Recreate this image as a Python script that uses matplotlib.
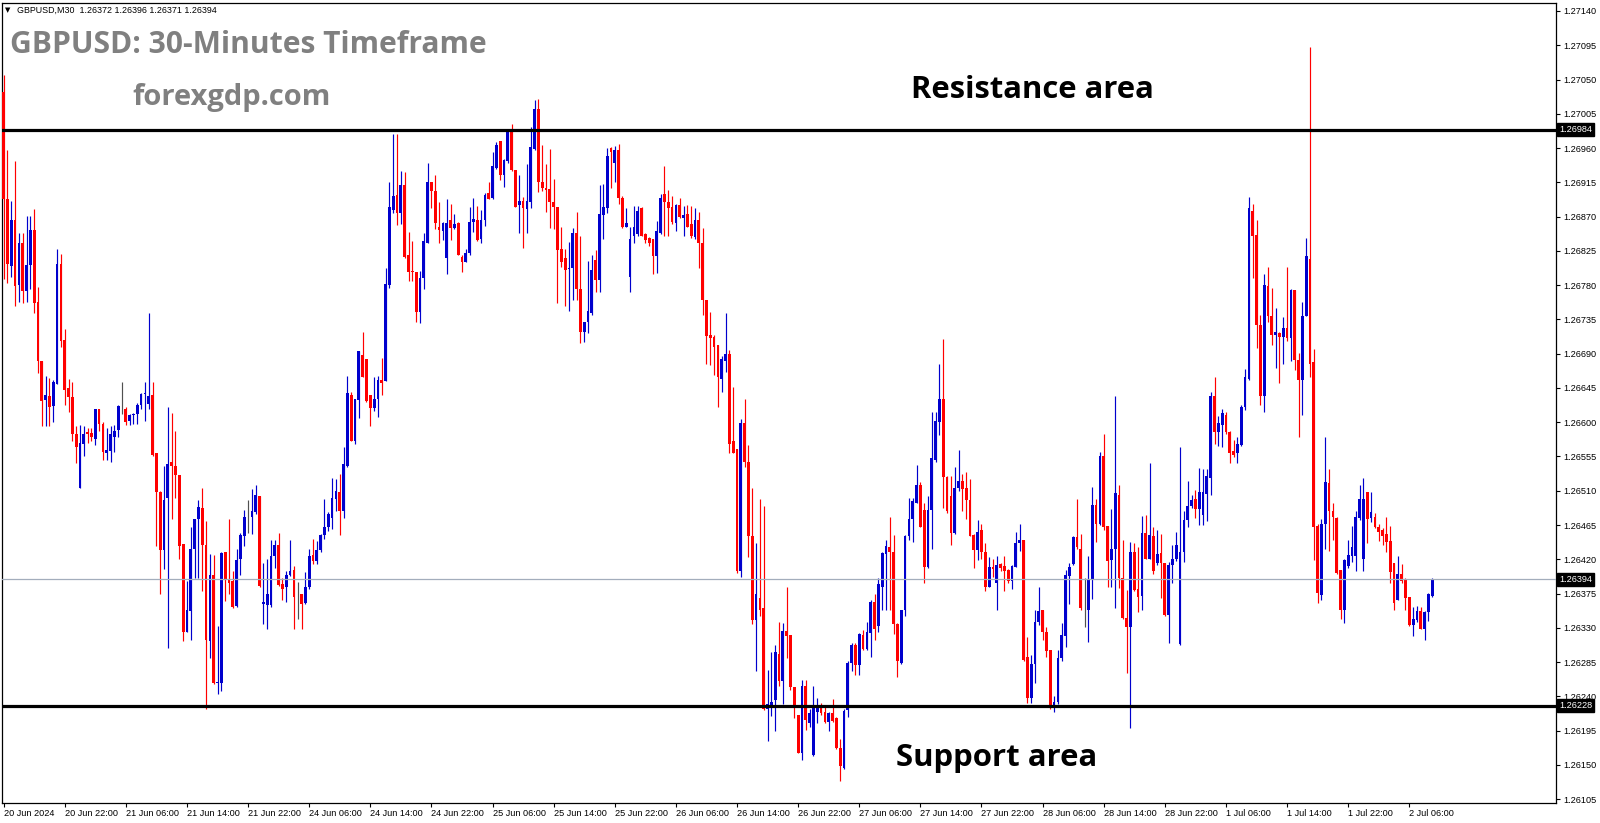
import numpy as np
import matplotlib
matplotlib.use("Agg")
import matplotlib.pyplot as plt
from matplotlib.transforms import blended_transform_factory

# Prices are stored in points: price = 1.26000 + pts / 100000
BASE = 1.26000
PT = 0.00001

open_pts = [
    1034, 893, 805, 866, 780, 835, 772, 807, 852, 758,
    680, 629, 635, 621, 650, 808, 708, 645, 633, 585,
    514, 572, 587, 586, 578, 617, 598, 559, 562, 581,
    590, 620, 618, 601, 609, 611, 622, 637, 624, 636,
    559, 509, 432, 501, 548, 543, 531, 440, 324, 352,
    433, 473, 488, 439, 313, 400, 257, 257, 429, 394,
    391, 359, 420, 450, 475, 475, 482, 503, 361, 360,
    360, 424, 439, 388, 383, 399, 406, 374, 374, 363,
    383, 425, 418, 432, 452, 462, 474, 499, 509, 483,
    542, 636, 576, 629, 688, 683, 636, 619, 630, 655,
    654, 780, 879, 899, 875, 911, 820, 799, 797, 745,
    790, 836, 915, 904, 857, 851, 816, 865, 855, 862,
    817, 811, 822, 863, 865, 840, 865, 901, 894, 934,
    969, 924, 943, 981, 931, 885, 890, 880, 889, 959,
    1011, 916, 907, 906, 889, 883, 827, 815, 801, 802,
    848, 775, 718, 732, 743, 813, 787, 872, 881, 960,
    940, 958, 894, 857, 791, 845, 847, 881, 847, 842,
    840, 818, 848, 900, 889, 882, 861, 885, 868, 873,
    860, 843, 865, 836, 760, 715, 712, 702, 657, 681,
    689, 575, 565, 404, 599, 548, 451, 340, 369, 356,
    224, 229, 235, 296, 260, 326, 321, 252, 216, 165,
    253, 205, 163, 219, 227, 219, 207, 218, 211, 172,
    146, 222, 284, 308, 281, 321, 302, 323, 364, 332,
    384, 427, 436, 430, 335, 284, 353, 450, 473, 494,
    518, 485, 410, 485, 550, 600, 630, 528, 503, 454,
    513, 523, 513, 498, 452, 432, 458, 430, 384, 410,
    389, 414, 411, 406, 392, 410, 442, 445, 292, 238,
    282, 338, 353, 325, 301, 227, 232, 290, 319, 398,
    414, 449, 433, 356, 354, 393, 491, 467, 555, 464,
    419, 433, 505, 395, 343, 331, 429, 381, 372, 454,
    421, 451, 415, 428, 415, 347, 413, 421, 309, 429,
    471, 490, 499, 486, 478, 506, 527, 634, 587, 597,
    610, 587, 562, 559, 570, 620, 657, 878, 846, 728,
    635, 779, 740, 714, 717, 712, 724, 711, 773, 682,
    655, 740, 814, 679, 464, 373, 466, 520, 483, 474,
    406, 353, 411, 424, 424, 474, 420, 508, 474, 475,
    463, 459, 453, 444, 415, 367, 401, 393, 371, 334,
    340, 352, 329, 351, 372,
]

high_pts = [
    1056, 957, 891, 943, 849, 849, 871, 871, 880, 777,
    681, 661, 658, 656, 827, 821, 723, 657, 653, 595,
    596, 595, 592, 592, 618, 618, 600, 592, 595, 597,
    622, 653, 620, 611, 612, 625, 639, 653, 743, 653,
    559, 510, 542, 620, 612, 589, 531, 440, 392, 462,
    473, 498, 513, 470, 427, 426, 333, 429, 429, 473,
    405, 434, 455, 485, 498, 512, 517, 503, 415, 421,
    445, 445, 454, 396, 404, 445, 411, 390, 374, 403,
    433, 447, 444, 453, 499, 482, 527, 526, 532, 567,
    661, 640, 631, 693, 719, 683, 636, 660, 661, 684,
    802, 915, 979, 979, 930, 928, 850, 838, 797, 799,
    848, 940, 915, 924, 889, 863, 893, 886, 873, 863,
    820, 827, 883, 895, 884, 879, 901, 915, 955, 968,
    969, 946, 985, 992, 931, 925, 896, 939, 988, 1023,
    1025, 964, 939, 959, 920, 883, 857, 828, 837, 855,
    876, 845, 732, 812, 820, 826, 911, 913, 960, 962,
    963, 965, 897, 881, 856, 884, 884, 882, 849, 843,
    840, 864, 900, 937, 905, 897, 886, 894, 884, 885,
    884, 881, 876, 855, 760, 745, 715, 702, 687, 743,
    695, 646, 565, 604, 630, 570, 513, 441, 499, 490,
    274, 298, 307, 338, 337, 383, 321, 252, 216, 262,
    262, 224, 254, 238, 231, 227, 220, 236, 213, 184,
    224, 286, 310, 310, 323, 327, 338, 366, 374, 395,
    430, 445, 475, 452, 336, 353, 452, 500, 500, 544,
    522, 494, 503, 614, 613, 676, 709, 529, 529, 541,
    564, 532, 534, 526, 453, 472, 467, 441, 423, 421,
    424, 415, 424, 407, 413, 456, 467, 445, 318, 294,
    354, 384, 353, 331, 301, 240, 301, 337, 406, 415,
    451, 499, 453, 395, 424, 515, 499, 561, 585, 464,
    486, 634, 518, 446, 380, 443, 441, 436, 477, 478,
    546, 463, 459, 453, 415, 416, 439, 456, 567, 483,
    523, 504, 511, 540, 539, 539, 640, 660, 608, 617,
    614, 589, 577, 580, 622, 670, 896, 886, 866, 741,
    794, 804, 776, 750, 718, 738, 804, 775, 774, 691,
    758, 842, 1093, 696, 466, 473, 580, 539, 494, 475,
    406, 420, 446, 464, 483, 518, 527, 508, 509, 481,
    466, 461, 475, 464, 415, 424, 414, 396, 371, 357,
    359, 357, 352, 376, 396,
]

low_pts = [
    788, 783, 791, 752, 758, 756, 758, 775, 744, 664,
    595, 595, 595, 600, 650, 699, 622, 614, 576, 546,
    514, 556, 573, 576, 570, 589, 551, 551, 548, 561,
    581, 611, 596, 596, 598, 598, 617, 602, 617, 556,
    437, 374, 407, 303, 473, 501, 421, 313, 324, 314,
    396, 395, 379, 223, 291, 256, 243, 247, 365, 374,
    356, 358, 399, 437, 455, 453, 479, 384, 335, 328,
    358, 408, 385, 366, 364, 398, 329, 341, 329, 361,
    381, 414, 414, 429, 447, 457, 460, 484, 452, 474,
    541, 575, 571, 605, 659, 626, 595, 615, 607, 636,
    654, 776, 875, 859, 860, 815, 785, 785, 731, 730,
    775, 835, 881, 854, 835, 839, 795, 839, 854, 819,
    797, 810, 820, 850, 838, 835, 858, 893, 893, 933,
    918, 909, 941, 930, 882, 848, 829, 849, 881, 957,
    902, 903, 876, 855, 854, 757, 804, 753, 746, 760,
    760, 704, 706, 717, 741, 771, 771, 840, 875, 907,
    915, 886, 855, 856, 771, 835, 845, 844, 836, 831,
    794, 796, 847, 844, 845, 860, 851, 868, 845, 856,
    842, 841, 802, 741, 676, 675, 662, 620, 640, 666,
    560, 560, 402, 397, 541, 423, 335, 273, 346, 222,
    182, 214, 194, 253, 230, 291, 249, 212, 165, 157,
    196, 200, 162, 205, 216, 205, 194, 207, 171, 129,
    144, 213, 273, 268, 268, 301, 301, 292, 314, 325,
    353, 354, 354, 322, 266, 283, 345, 445, 443, 494,
    463, 389, 409, 433, 548, 583, 488, 481, 439, 453,
    510, 483, 473, 450, 409, 419, 420, 378, 383, 397,
    353, 404, 378, 389, 381, 410, 431, 286, 231, 231,
    258, 334, 314, 292, 223, 220, 230, 286, 305, 361,
    413, 433, 354, 331, 311, 368, 443, 465, 459, 384,
    383, 356, 382, 341, 271, 198, 379, 351, 353, 420,
    420, 401, 413, 369, 345, 310, 389, 418, 308, 417,
    463, 488, 474, 465, 465, 470, 504, 572, 569, 567,
    585, 547, 554, 547, 569, 616, 655, 790, 697, 622,
    614, 731, 701, 671, 652, 676, 707, 680, 669, 580,
    610, 739, 659, 419, 363, 367, 434, 431, 446, 401,
    341, 336, 409, 416, 404, 471, 404, 441, 469, 461,
    444, 439, 430, 389, 353, 366, 389, 353, 332, 319,
    338, 328, 314, 339, 371,
]

close_pts = [
    893, 808, 866, 779, 835, 772, 807, 853, 756, 681,
    628, 636, 620, 653, 808, 707, 642, 633, 585, 567,
    573, 585, 584, 581, 617, 598, 561, 563, 584, 589,
    621, 620, 600, 610, 611, 622, 637, 639, 635, 557,
    509, 432, 498, 545, 542, 531, 437, 325, 353, 433,
    473, 489, 439, 314, 399, 257, 259, 428, 394, 389,
    358, 419, 452, 476, 475, 483, 504, 385, 364, 375,
    424, 439, 386, 381, 400, 404, 371, 374, 361, 384,
    424, 418, 432, 452, 462, 479, 500, 510, 483, 545,
    638, 576, 630, 693, 660, 628, 619, 631, 655, 651,
    781, 882, 897, 875, 912, 817, 797, 797, 745, 789,
    838, 915, 904, 861, 852, 862, 861, 855, 860, 820,
    811, 822, 863, 867, 839, 865, 899, 893, 936, 964,
    924, 944, 982, 931, 883, 890, 881, 890, 962, 1011,
    916, 908, 905, 889, 882, 826, 811, 800, 803, 848,
    775, 718, 732, 746, 800, 787, 874, 882, 950, 955,
    958, 894, 857, 861, 840, 856, 878, 845, 839, 836,
    818, 851, 894, 889, 881, 863, 885, 869, 872, 857,
    844, 865, 836, 760, 713, 710, 699, 660, 683, 689,
    571, 560, 404, 599, 548, 451, 340, 375, 354, 223,
    230, 233, 298, 260, 326, 319, 252, 228, 166, 253,
    209, 218, 227, 229, 218, 207, 218, 208, 172, 148,
    221, 284, 308, 281, 322, 302, 325, 364, 329, 388,
    428, 438, 430, 335, 286, 353, 450, 473, 496, 518,
    463, 410, 485, 553, 601, 630, 528, 483, 454, 513,
    523, 512, 498, 451, 432, 456, 430, 384, 410, 407,
    413, 408, 404, 392, 411, 442, 445, 288, 238, 283,
    338, 352, 325, 299, 226, 233, 291, 321, 400, 410,
    449, 436, 356, 356, 394, 491, 467, 556, 463, 418,
    434, 507, 395, 343, 331, 429, 380, 371, 454, 421,
    452, 404, 427, 415, 347, 413, 421, 439, 429, 471,
    490, 498, 486, 509, 509, 529, 635, 587, 599, 612,
    587, 560, 557, 572, 620, 660, 881, 845, 728, 635,
    780, 740, 715, 719, 712, 724, 711, 773, 682, 655,
    739, 818, 676, 463, 376, 466, 521, 483, 476, 402,
    353, 419, 425, 436, 475, 499, 499, 473, 482, 463,
    456, 451, 443, 403, 363, 401, 392, 369, 334, 342,
    352, 329, 351, 374, 394,
]

time_labels = [
    "20 Jun 2024", "20 Jun 22:00", "21 Jun 06:00", "21 Jun 14:00", "21 Jun 22:00",
    "24 Jun 06:00", "24 Jun 14:00", "24 Jun 22:00", "25 Jun 06:00", "25 Jun 14:00",
    "25 Jun 22:00", "26 Jun 06:00", "26 Jun 14:00", "26 Jun 22:00", "27 Jun 06:00",
    "27 Jun 14:00", "27 Jun 22:00", "28 Jun 06:00", "28 Jun 14:00", "28 Jun 22:00",
    "1 Jul 06:00", "1 Jul 14:00", "1 Jul 22:00", "2 Jul 06:00",
]
bars_per_label = 16

price_tick_labels = [
    "1.26105", "1.26150", "1.26195", "1.26240", "1.26285", "1.26330", "1.26375",
    "1.26420", "1.26465", "1.26510", "1.26555", "1.26600", "1.26645", "1.26690",
    "1.26735", "1.26780", "1.26825", "1.26870", "1.26915", "1.26960", "1.27005",
    "1.27050", "1.27095", "1.27140",
]

resistance_level = 1.26984
support_level = 1.26228
last_price = 1.26394
header_text = "GBPUSD,M30  1.26372 1.26396 1.26371 1.26394"

# ---------------------------------------------------------------
o = BASE + np.array(open_pts) * PT
h = BASE + np.array(high_pts) * PT
l = BASE + np.array(low_pts) * PT
c = BASE + np.array(close_pts) * PT
idx = np.arange(len(o))

BULL = "#0000CD"
BEAR = "#FF0000"
DOJI = "#505050"
colors = np.where(c > o, BULL, np.where(c < o, BEAR, DOJI))

W, H = 1600, 823
fig = plt.figure(figsize=(W / 100, H / 100), dpi=100)
fig.patch.set_facecolor("white")
ax = fig.add_axes([2 / W, 20 / H, 1554 / W, 800 / H])
ax.set_facecolor("white")

ax.vlines(idx, l, h, colors=colors, linewidth=0.85, zorder=2)
body_bottom = np.minimum(o, c)
body_height = np.maximum(np.abs(c - o), 0.6 * PT)
ax.bar(idx, body_height, bottom=body_bottom, width=0.72, color=colors,
       linewidth=0, zorder=3)

ax.axhline(last_price, color="#A3ADBC", linewidth=0.9, zorder=4)
ax.axhline(resistance_level, color="black", linewidth=2.3, zorder=5)
ax.axhline(support_level, color="black", linewidth=2.3, zorder=5)

ax.set_xlim(-0.42, 406.4)
ax.set_ylim(1.26100, 1.271505)

tick_font = dict(family=["Liberation Sans", "DejaVu Sans"], size=6.6)

ax.set_xticks(np.arange(len(time_labels)) * bars_per_label)
ax.set_xticklabels(time_labels, ha="left", **tick_font)
ax.tick_params(axis="x", direction="out", length=3, width=0.8, pad=1.5, colors="black")

ax.yaxis.tick_right()
ax.set_yticks([float(s) for s in price_tick_labels])
ax.set_yticklabels(price_tick_labels, **tick_font)
ax.tick_params(axis="y", direction="out", length=3, width=0.8, pad=2.5, colors="black")

for sp in ax.spines.values():
    sp.set_color("black")
    sp.set_linewidth(0.9)

# highlighted price boxes on the right axis
tr = blended_transform_factory(fig.transFigure, ax.transData)
for lev in (resistance_level, last_price, support_level):
    fig.text(1559 / W, lev, f"{lev:.5f}", transform=tr, ha="left", va="center",
             color="white", zorder=10, **tick_font,
             bbox=dict(boxstyle="square,pad=0.22", facecolor="black", edgecolor="black"))

# header
fig.text(5 / W, 1 - 10 / H, "\u25BC", ha="left", va="center",
         family=["DejaVu Sans"], size=5, color="black")
fig.text(17 / W, 1 - 10 / H, header_text, ha="left", va="center",
         family=["Liberation Sans", "DejaVu Sans"], size=6.4, color="black")

title_font = dict(family=["Open Sans", "DejaVu Sans"], weight="bold")
fig.text(10 / W, 1 - 45 / H, "GBPUSD: 30-Minutes Timeframe", ha="left", va="center",
         color="#808080", size=21.6, **title_font)
fig.text(132 / W, 1 - 97 / H, "forexgdp.com", ha="left", va="center",
         color="#808080", size=21, **title_font)
fig.text(911 / W, 1 - 90 / H, "Resistance area", ha="left", va="center",
         color="black", size=22.3, **title_font)
fig.text(896 / W, 1 - 758 / H, "Support area", ha="left", va="center",
         color="black", size=22.4, **title_font)

fig.savefig("out.png", dpi=100, facecolor="white")
